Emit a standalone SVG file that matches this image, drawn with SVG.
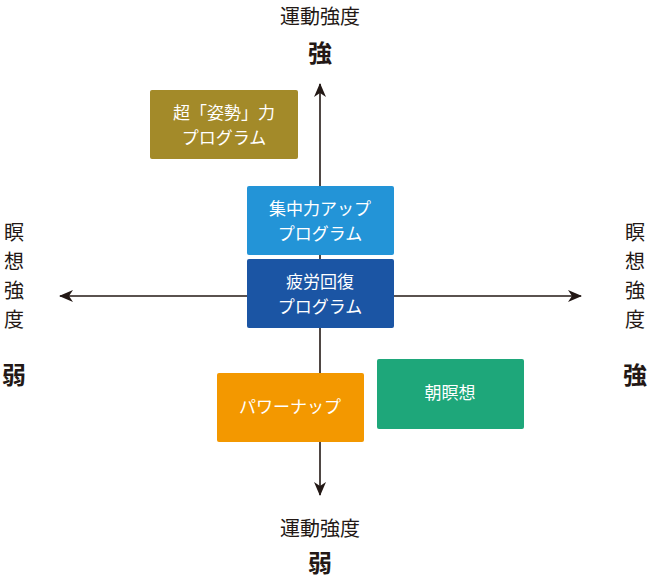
<svg xmlns="http://www.w3.org/2000/svg" width="649" height="580" viewBox="0 0 649 580">
<style>
.t{font-family:"Noto Sans CJK JP","Noto Sans",sans-serif;fill:#231815;text-anchor:middle}
.a{font-size:20px}
.b{font-size:24px;font-weight:bold}
.w{font-family:"Noto Sans CJK JP","Noto Sans",sans-serif;fill:#fff;font-size:17px;text-anchor:middle}
</style>
<defs><marker id="ar" viewBox="0 0 14 12" refX="13" refY="6" markerWidth="14" markerHeight="12" markerUnits="userSpaceOnUse" orient="auto"><path d="M0,0L14,6L0,12L4,6z" fill="#231815"/></marker></defs>
<g id="connectors" stroke="#231815" stroke-width="1.6">
<line x1="320" y1="296" x2="320" y2="84" marker-end="url(#ar)"/>
<line x1="320" y1="296" x2="320" y2="495" marker-end="url(#ar)"/>
<line x1="320" y1="296" x2="60" y2="296" marker-end="url(#ar)"/>
<line x1="320" y1="296" x2="581" y2="296" marker-end="url(#ar)"/>
</g>
<g id="labels">
<text class="t a" x="320" y="24">運動強度</text>
<text class="t b" x="320" y="62">強</text>
<text class="t a" x="320" y="536">運動強度</text>
<text class="t b" x="320" y="572">弱</text>
<text class="t a" x="14" y="240">瞑</text><text class="t a" x="14" y="269">想</text><text class="t a" x="14" y="298">強</text><text class="t a" x="14" y="327">度</text>
<text class="t b" x="14" y="384">弱</text>
<text class="t a" x="635" y="240">瞑</text><text class="t a" x="635" y="269">想</text><text class="t a" x="635" y="298">強</text><text class="t a" x="635" y="327">度</text>
<text class="t b" x="635" y="384">強</text>
</g>
<g id="n1"><rect x="150" y="90" width="148" height="69" rx="2" fill="#a38a29"/><text class="w" x="224" y="119">超「姿勢」力</text><text class="w" x="224" y="144">プログラム</text></g>
<g id="n2"><rect x="247" y="186" width="147" height="69" rx="2" fill="#2394d7"/><text class="w" x="320" y="215">集中力アップ</text><text class="w" x="320" y="240">プログラム</text></g>
<g id="n3"><rect x="247" y="259" width="147" height="69" rx="2" fill="#1b55a4"/><text class="w" x="320" y="288">疲労回復</text><text class="w" x="320" y="313">プログラム</text></g>
<g id="n4"><rect x="217" y="373" width="147" height="69" rx="2" fill="#f39800"/><text class="w" x="290" y="413">パワーナップ</text></g>
<g id="n5"><rect x="377" y="359" width="147" height="70" rx="2" fill="#1ea77a"/><text class="w" x="450" y="399">朝瞑想</text></g>
</svg>
